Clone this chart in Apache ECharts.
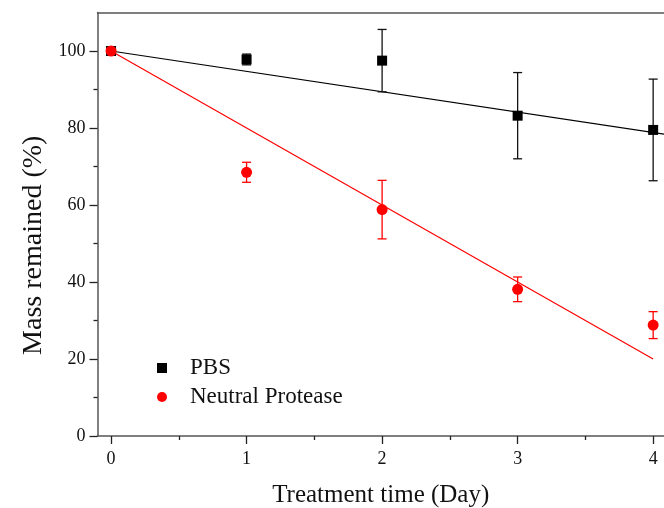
<!DOCTYPE html>
<html>
<head>
<meta charset="utf-8">
<script src="https://cdn.jsdelivr.net/npm/echarts@6/dist/echarts.min.js"></script>
<style>
html,body{margin:0;padding:0;background:#fff;}
#chart{width:664px;height:508px;}
</style>
</head>
<body>
<div id="chart"></div>
<script>
// ---- data ----
var days = [0, 1, 2, 3, 4];
var pbsMean = [100, 97.8, 97.5, 83.2, 79.5];
var pbsErr = [0, 1.4, 8.1, 11.2, 13.2];
var proteaseMean = [100, 68.5, 58.8, 38.1, 28.8];
var proteaseErr = [0, 2.6, 7.6, 3.2, 3.5];
var pbsFitX = [0, 4.1];
var pbsFitY = [100, 78.3];
var proteaseFitX = [0, 4];
var proteaseFitY = [100, 20];
var xMajorTicks = [0, 1, 2, 3, 4];
var xMinorTicks = [0.5, 1.5, 2.5, 3.5];
var yMajorTicks = [0, 20, 40, 60, 80, 100];
var yMinorTicks = [10, 30, 50, 70, 90];

var FONT = "'Liberation Serif', 'Times New Roman', serif";
var AXIS_COLOR = '#555';

function pairs(xs, ys) { return xs.map(function (x, i) { return [x, ys[i]]; }); }
function errData(xs, m, e) { return xs.map(function (x, i) { return [x, m[i] - e[i], m[i] + e[i]]; }); }

function errRender(color) {
  return function (params, api) {
    if (api.value(2) - api.value(1) <= 0) return null;
    var lo = api.coord([api.value(0), api.value(1)]);
    var hi = api.coord([api.value(0), api.value(2)]);
    var hw = 4.5;
    var st = { stroke: color, lineWidth: 1.3 };
    return {
      type: 'group',
      children: [
        { type: 'line', shape: { x1: lo[0], y1: lo[1], x2: hi[0], y2: hi[1] }, style: st },
        { type: 'line', shape: { x1: lo[0] - hw, y1: lo[1], x2: lo[0] + hw, y2: lo[1] }, style: st },
        { type: 'line', shape: { x1: hi[0] - hw, y1: hi[1], x2: hi[0] + hw, y2: hi[1] }, style: st }
      ]
    };
  };
}

var chart = echarts.init(document.getElementById('chart'), null, { renderer: 'canvas' });

var xBase = { type: 'value', min: -0.1, max: 4.08, splitLine: { show: false } };
var yBase = { type: 'value', min: 0, max: 110, splitLine: { show: false } };

var option = {
  backgroundColor: '#fff',
  animation: false,
  grid: { left: 97.5, right: 0, top: 12.5, bottom: 72, containLabel: false, outerBoundsMode: 'none' },
  legend: {
    orient: 'vertical',
    left: 152,
    top: 350,
    itemWidth: 10,
    itemHeight: 10,
    itemGap: 3,
    data: [
      { name: 'PBS', icon: 'rect' },
      { name: 'Neutral Protease', icon: 'circle' }
    ],
    textStyle: { fontFamily: FONT, fontSize: 23, color: '#111', padding: [0, 0, 0, 18], lineHeight: 26 }
  },
  xAxis: [
    Object.assign({}, xBase, {
      position: 'bottom',
      name: 'Treatment time (Day)',
      nameLocation: 'middle',
      nameGap: 47,
      nameTextStyle: { fontFamily: FONT, fontSize: 25, color: '#111' },
      axisLine: { show: true, onZero: false, lineStyle: { color: AXIS_COLOR, width: 1.5 } },
      axisTick: { show: true, inside: false, length: 8, customValues: xMajorTicks, lineStyle: { color: '#222', width: 1.3 } },
      axisLabel: { show: true, margin: 14, customValues: xMajorTicks, fontFamily: FONT, fontSize: 18, color: '#111' }
    }),
    Object.assign({}, xBase, {
      position: 'bottom',
      axisLine: { show: false, onZero: false },
      axisTick: { show: true, inside: false, length: 4, customValues: xMinorTicks, lineStyle: { color: '#222', width: 1.3 } },
      axisLabel: { show: false }
    }),
    Object.assign({}, xBase, {
      position: 'top',
      axisLine: { show: true, onZero: false, lineStyle: { color: AXIS_COLOR, width: 1.5 } },
      axisTick: { show: false },
      axisLabel: { show: false }
    })
  ],
  yAxis: [
    Object.assign({}, yBase, {
      position: 'left',
      name: 'Mass remained (%)',
      nameLocation: 'middle',
      nameGap: 50,
      nameTextStyle: { fontFamily: FONT, fontSize: 28, color: '#111', padding: [0, 42, 0, 0] },
      axisLine: { show: true, onZero: false, lineStyle: { color: AXIS_COLOR, width: 1.5 } },
      axisTick: { show: true, inside: false, length: 8, customValues: yMajorTicks, lineStyle: { color: '#222', width: 1.3 } },
      axisLabel: { show: true, margin: 12, customValues: yMajorTicks, fontFamily: FONT, fontSize: 18, color: '#111' }
    }),
    Object.assign({}, yBase, {
      position: 'left',
      axisLine: { show: false, onZero: false },
      axisTick: { show: true, inside: false, length: 4, customValues: yMinorTicks, lineStyle: { color: '#222', width: 1.3 } },
      axisLabel: { show: false }
    })
  ],
  series: [
    {
      type: 'line', name: 'PBS fit', data: pairs(pbsFitX, pbsFitY),
      symbol: 'none', lineStyle: { color: '#000', width: 1.2 }, z: 2, silent: true
    },
    {
      type: 'line', name: 'Protease fit', data: pairs(proteaseFitX, proteaseFitY),
      symbol: 'none', lineStyle: { color: '#ff0000', width: 1.2 }, z: 2, silent: true
    },
    {
      type: 'custom', name: 'PBS err', data: errData(days, pbsMean, pbsErr),
      renderItem: errRender('#111'), encode: { x: 0, y: [1, 2] }, z: 3
    },
    {
      type: 'custom', name: 'Protease err', data: errData(days, proteaseMean, proteaseErr),
      renderItem: errRender('#ff0000'), encode: { x: 0, y: [1, 2] }, z: 3
    },
    {
      type: 'scatter', name: 'PBS', data: pairs(days, pbsMean),
      symbol: 'rect', symbolSize: 10, itemStyle: { color: '#000', opacity: 1 }, z: 4
    },
    {
      type: 'scatter', name: 'Neutral Protease', data: pairs(days, proteaseMean),
      symbol: 'circle', symbolSize: 11, itemStyle: { color: '#ff0000', opacity: 1 }, z: 5
    }
  ]
};
chart.setOption(option);
</script>
</body>
</html>
